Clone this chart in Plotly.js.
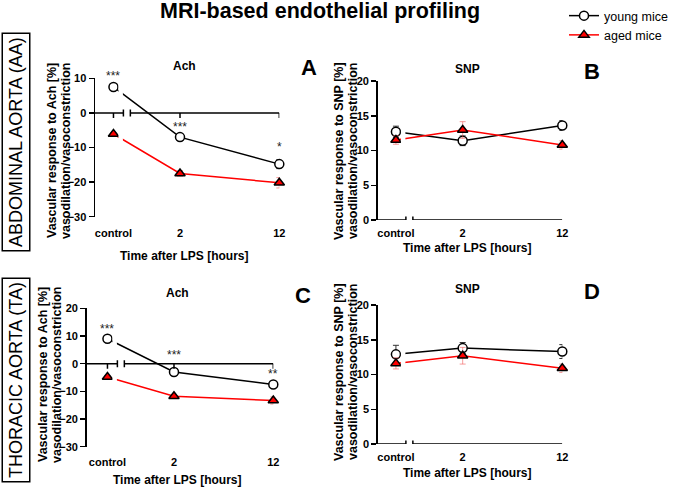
<!DOCTYPE html>
<html>
<head>
<meta charset="utf-8">
<script src="https://cdn.plot.ly/plotly-3.0.1.min.js"></script>
<style>html,body{margin:0;padding:0;background:#fff;}#chart{width:695px;height:487px;}</style>
</head>
<body>
<div id="chart"></div>
<script>
// ---------- data ----------
const timeLabels = ['control', '2', '12'];
const timeX = [-4.7, 2, 12];            // axis coordinates of the segmented time axis
const seriesNames = ['young mice', 'aged mice'];

const aaAchYoung = [7.5, -7.0, -14.8];
const aaAchYoungErr = [0.4, 0.5, 1.3];
const aaAchAged = [-6.1, -17.5, -20.2];
const aaAchAgedErr = [0.4, 0.8, 1.5];

const aaSnpYoung = [12.7, 11.4, 13.6];
const aaSnpYoungErr = [0.8, 0.7, 0.7];
const aaSnpAged = [11.5, 12.95, 10.8];
const aaSnpAgedErr = [0.6, 1.2, 0.6];

const taAchYoung = [9.0, -3.0, -7.5];
const taAchYoungErr = [0.5, 0.5, 0.6];
const taAchAged = [-4.8, -11.8, -13.3];
const taAchAgedErr = [0.5, 0.6, 1.3];

const taSnpYoung = [12.9, 13.8, 13.3];
const taSnpYoungErr = [1.3, 0.8, 1.0];
const taSnpAged = [11.6, 12.7, 10.9];
const taSnpAgedErr = [0.8, 1.2, 0.6];

const aaSig = ['***', '***', '*'];
const taSig = ['***', '***', '**'];

const panelTitles = ['Ach', 'SNP', 'Ach', 'SNP'];
const panelLetters = ['A', 'B', 'C', 'D'];
const yTitleLine1 = ['Vascular response to Ach [%]', 'Vascular response to SNP [%]',
                     'Vascular response to Ach [%]', 'Vascular response to SNP [%]'];
const yTitleLine2 = 'vasodilation/vasoconstriction';
const xTitle = 'Time after LPS [hours]';
const regionLabels = ['ABDOMINAL AORTA (AA)', 'THORACIC AORTA (TA)'];
const mainTitle = 'MRI-based endothelial profiling';

// ---------- layout helpers ----------
const W = 695, H = 487;
const px = v => v / W;
const py = v => 1 - v / H;
const FONT = 'Liberation Sans, Arial, sans-serif';
const RED = '#ff0000';

const panels = [
  {x0: 95, x1: 279.3, yTop: 78.3, yBot: 216.7, yr: [-30, 10], dt: 10, xmin: -6.56, stand: 8,
   young: aaAchYoung, youngErr: aaAchYoungErr, aged: aaAchAged, agedErr: aaAchAgedErr,
   sig: aaSig, sigShift: [11, 10, 17], titleY: 66, xLabY: 256, yTitX: [52, 66], yTitY: 151},
  {x0: 377.7, x1: 562.3, yTop: 81, yBot: 220, yr: [0, 20], dt: 5, xmin: -6.53, stand: 5,
   young: aaSnpYoung, youngErr: aaSnpYoungErr, aged: aaSnpAged, agedErr: aaSnpAgedErr,
   sig: null, titleY: 69, xLabY: 248, yTitX: [339, 353], yTitY: 151},
  {x0: 86.7, x1: 273.3, yTop: 308.3, yBot: 446.7, yr: [-30, 20], dt: 10, xmin: -6.79, stand: 7,
   young: taAchYoung, youngErr: taAchYoungErr, aged: taAchAged, agedErr: taAchAgedErr,
   sig: taSig, sigShift: [10, 17, 10], titleY: 293, xLabY: 480, yTitX: [43, 57], yTitY: 375},
  {x0: 377.7, x1: 562.3, yTop: 305, yBot: 444, yr: [0, 20], dt: 5, xmin: -6.53, stand: 5,
   young: taSnpYoung, youngErr: taSnpYoungErr, aged: taSnpAged, agedErr: taSnpAgedErr,
   sig: null, titleY: 289, xLabY: 473, yTitX: [339, 353], yTitY: 372}
];

const traces = [];
const shapes = [];
const annotations = [];
const layout = {
  width: W, height: H,
  margin: {l: 0, r: 0, t: 0, b: 0},
  paper_bgcolor: '#fff', plot_bgcolor: '#fff',
  font: {family: FONT, color: '#000'},
  showlegend: true,
  legend: {x: px(564), y: py(1), xanchor: 'left', yanchor: 'top',
           font: {family: FONT, size: 12.5, color: '#000'}, bgcolor: 'rgba(0,0,0,0)',
           tracegroupgap: 0, itemwidth: 30}
};

const BREAK_L = -3.7, BREAK_R = -3.0;
const tickFont = {family: FONT, size: 11, weight: 'bold', color: '#000'};

panels.forEach((p, i) => {
  const n = i + 1;
  const xa = 'x' + (n === 1 ? '' : n), ya = 'y' + (n === 1 ? '' : n);
  const xk = 'xaxis' + (n === 1 ? '' : n), yk = 'yaxis' + (n === 1 ? '' : n);
  layout[xk] = {
    domain: [px(p.x0), px(p.x1)], range: [p.xmin, 12], anchor: ya,
    showgrid: false, zeroline: false, showline: false, ticks: '',
    tickmode: 'array', tickvals: timeX, ticktext: timeLabels,
    tickfont: tickFont, ticklabelstandoff: p.stand, fixedrange: true
  };
  const tv = [], tt = [];
  for (let v = p.yr[0]; v <= p.yr[1] + 1e-9; v += p.dt) {
    tv.push(v);
    tt.push((v < 0 ? '\u2212' : '') + Math.abs(v));
  }
  layout[yk] = {
    domain: [py(p.yBot), py(p.yTop)], range: p.yr, anchor: xa,
    showgrid: false, zeroline: false, showline: true, linecolor: '#000', linewidth: 1.5,
    ticks: 'outside', ticklen: 5, tickwidth: 1.5, tickcolor: '#000',
    tickmode: 'array', tickvals: tv, ticktext: tt, tickfont: tickFont,
    fixedrange: true
  };

  traces.push({
    type: 'scatter', mode: 'lines+markers', x: timeX, y: p.young, xaxis: xa, yaxis: ya,
    name: seriesNames[0], showlegend: i === 0, legendgroup: 'young', cliponaxis: false,
    line: {color: '#000', width: 1.5},
    marker: {symbol: 'circle', size: 9, color: '#fff', line: {color: '#000', width: 1.5}},
    error_y: {type: 'data', array: p.youngErr, visible: true, color: '#333', thickness: 1, width: 3}
  });
  traces.push({
    type: 'scatter', mode: 'lines+markers', x: timeX, y: p.aged, xaxis: xa, yaxis: ya,
    name: seriesNames[1], showlegend: i === 0, legendgroup: 'aged', cliponaxis: false,
    line: {color: RED, width: 1.5},
    marker: {symbol: 'triangle-up', size: 9, color: RED, line: {color: '#000', width: 1.5}},
    error_y: {type: 'data', array: p.agedErr, visible: true, color: 'rgba(240,90,90,0.6)', thickness: 1, width: 3}
  });

  // gap in the lines near the axis break
  shapes.push({type: 'rect', xref: xa, yref: ya, x0: -4.2, x1: -3.75, y0: p.yr[0], y1: p.yr[1],
               fillcolor: '#fff', line: {width: 0}, layer: 'above'});
  // segmented x axis at y = 0
  const axLine = {color: '#000', width: 1.5};
  shapes.push({type: 'line', xref: xa, yref: ya, x0: p.xmin, x1: BREAK_L, y0: 0, y1: 0, line: axLine, layer: 'above'});
  shapes.push({type: 'line', xref: xa, yref: ya, x0: BREAK_R, x1: 12, y0: 0, y1: 0, line: axLine, layer: 'above'});
  [BREAK_L, BREAK_R].forEach(bx => {
    shapes.push({type: 'line', xref: xa, yref: ya, ysizemode: 'pixel', yanchor: 0,
                 x0: bx, x1: bx, y0: -3.5, y1: 3.5, line: axLine, layer: 'above'});
  });
  timeX.forEach(tx => {
    shapes.push({type: 'line', xref: xa, yref: ya, ysizemode: 'pixel', yanchor: 0,
                 x0: tx, x1: tx, y0: 0, y1: -5, line: axLine, layer: 'above'});
  });

  // panel title, letter, axis titles
  const cx = (p.x0 + p.x1) / 2;
  annotations.push({xref: 'paper', yref: 'paper', x: px(cx - 3), y: py(p.titleY),
    text: panelTitles[i], showarrow: false, xanchor: 'center', yanchor: 'middle',
    font: {family: FONT, size: 12, weight: 'bold'}});
  annotations.push({xref: 'paper', yref: 'paper', x: px(p.x1 + 30), y: py(p.titleY + 2),
    text: panelLetters[i], showarrow: false, xanchor: 'center', yanchor: 'middle',
    font: {family: FONT, size: 22, weight: 'bold'}});
  annotations.push({xref: 'paper', yref: 'paper', x: px(cx - 3), y: py(p.xLabY),
    text: xTitle, showarrow: false, xanchor: 'center', yanchor: 'middle',
    font: {family: FONT, size: 12, weight: 'bold'}});
  [yTitleLine1[i], yTitleLine2].forEach((t, k) => {
    annotations.push({xref: 'paper', yref: 'paper', x: px(p.yTitX[k]), y: py(p.yTitY),
      text: t, showarrow: false, xanchor: 'center', yanchor: 'middle', textangle: -90,
      font: {family: FONT, size: 12.5, weight: 'bold'}});
  });

  if (p.sig) {
    p.sig.forEach((s, k) => {
      annotations.push({xref: xa, yref: ya, x: timeX[k], y: p.young[k], yshift: p.sigShift[k],
        text: s, showarrow: false, xanchor: 'center', yanchor: 'middle',
        font: {family: FONT, size: 12, color: '#222'}});
    });
  }
});

annotations.push({xref: 'paper', yref: 'paper', x: px(320), y: py(11), text: mainTitle,
  showarrow: false, xanchor: 'center', yanchor: 'middle', font: {family: FONT, size: 21.5, weight: 'bold'}});
annotations.push({xref: 'paper', yref: 'paper', x: px(15.5), y: py(142), text: regionLabels[0],
  showarrow: false, textangle: -90, xanchor: 'center', yanchor: 'middle',
  bordercolor: '#000', borderwidth: 1.5, borderpad: 3, font: {family: FONT, size: 18}});
annotations.push({xref: 'paper', yref: 'paper', x: px(15.5), y: py(380), text: regionLabels[1],
  showarrow: false, textangle: -90, xanchor: 'center', yanchor: 'middle',
  bordercolor: '#000', borderwidth: 1.5, borderpad: 3, font: {family: FONT, size: 18}});

layout.shapes = shapes;
layout.annotations = annotations;

Plotly.newPlot('chart', traces, layout, {displayModeBar: false, staticPlot: true});
</script>
</body>
</html>
